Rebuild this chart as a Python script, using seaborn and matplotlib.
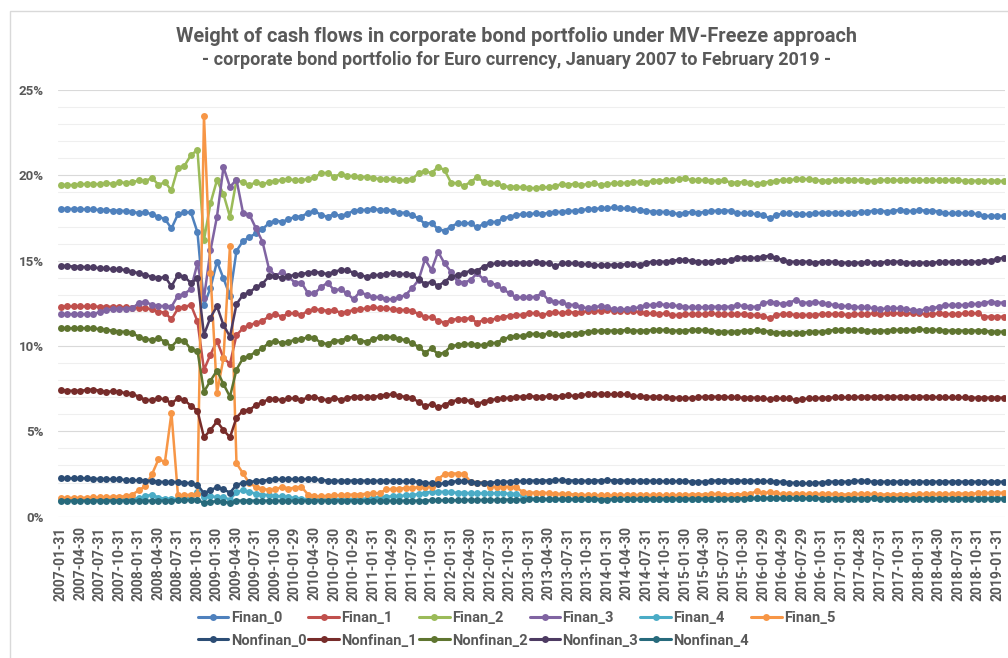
import numpy as np
import pandas as pd
import seaborn as sns
from matplotlib import pyplot as plt
from matplotlib.lines import Line2D
from matplotlib.patches import Rectangle

# quarterly tick labels (every 3rd month, 146 monthly observations)
tick_labels = ["2007-01-31", "2007-04-30", "2007-07-31", "2007-10-31", "2008-01-31", "2008-04-30",
               "2008-07-31", "2008-10-31", "2009-01-30", "2009-04-30", "2009-07-31", "2009-10-30",
               "2010-01-29", "2010-04-30", "2010-07-30", "2010-10-29", "2011-01-31", "2011-04-29",
               "2011-07-29", "2011-10-31", "2012-01-31", "2012-04-30", "2012-07-31", "2012-10-31",
               "2013-01-31", "2013-04-30", "2013-07-31", "2013-10-31", "2014-01-31", "2014-04-30",
               "2014-07-31", "2014-10-31", "2015-01-30", "2015-04-30", "2015-07-31", "2015-10-30",
               "2016-01-29", "2016-04-29", "2016-07-29", "2016-10-31", "2017-01-31", "2017-04-28",
               "2017-07-31", "2017-10-31", "2018-01-31", "2018-04-30", "2018-07-31", "2018-10-31",
               "2019-01-31"]

# weights in %
finan_0 = [18.03, 18.03, 18.03, 18.03, 18.00, 18.00, 17.97, 17.97, 17.93, 17.93,
           17.90, 17.85, 17.80, 17.83, 17.72, 17.58, 17.44, 16.89, 17.72, 17.83,
           17.83, 16.66, 12.40, 13.40, 14.95, 13.96, 12.95, 15.57, 16.15, 16.38,
           16.60, 16.85, 17.20, 17.35, 17.28, 17.42, 17.58, 17.58, 17.81, 17.93,
           17.67, 17.58, 17.73, 17.62, 17.73, 17.93, 17.97, 17.97, 18.04, 17.97,
           17.97, 17.93, 17.81, 17.81, 17.67, 17.48, 17.15, 17.22, 16.84, 16.76,
           16.99, 17.19, 17.19, 17.19, 16.95, 17.15, 17.28, 17.26, 17.48, 17.58,
           17.66, 17.73, 17.73, 17.77, 17.73, 17.81, 17.87, 17.85, 17.89, 17.93,
           17.97, 18.01, 18.04, 18.06, 18.08, 18.12, 18.06, 18.06, 18.01, 17.97,
           17.93, 17.87, 17.87, 17.85, 17.81, 17.73, 17.81, 17.85, 17.81, 17.85,
           17.89, 17.93, 17.93, 17.93, 17.81, 17.77, 17.77, 17.73, 17.67, 17.48,
           17.67, 17.77, 17.77, 17.73, 17.73, 17.73, 17.77, 17.81, 17.81, 17.81,
           17.77, 17.77, 17.81, 17.85, 17.85, 17.93, 17.93, 17.87, 17.93, 17.97,
           17.93, 17.89, 17.97, 17.93, 17.93, 17.87, 17.77, 17.77, 17.81, 17.77,
           17.77, 17.73, 17.62, 17.62, 17.62, 17.62]
finan_1 = [12.30, 12.32, 12.32, 12.32, 12.32, 12.32, 12.30, 12.30, 12.30, 12.28,
           12.28, 12.25, 12.25, 12.22, 12.15, 12.01, 11.96, 11.56, 12.20, 12.30,
           12.40, 11.45, 8.60, 9.50, 10.30, 9.30, 8.95, 10.64, 11.04, 11.23,
           11.35, 11.48, 11.73, 11.86, 11.72, 11.91, 11.91, 11.82, 12.07, 12.15,
           12.11, 12.07, 12.11, 11.95, 12.01, 12.11, 12.15, 12.21, 12.27, 12.21,
           12.21, 12.15, 12.11, 12.11, 12.07, 11.87, 11.72, 11.68, 11.48, 11.37,
           11.52, 11.60, 11.60, 11.62, 11.37, 11.52, 11.52, 11.62, 11.72, 11.76,
           11.82, 11.82, 11.95, 11.91, 11.82, 11.91, 11.99, 11.91, 12.01, 11.95,
           11.99, 12.03, 12.07, 12.07, 12.11, 12.07, 12.07, 12.03, 12.03, 11.99,
           11.91, 11.91, 11.87, 11.91, 11.82, 11.82, 11.87, 11.87, 11.87, 11.87,
           11.91, 11.87, 11.87, 11.87, 11.87, 11.87, 11.82, 11.82, 11.76, 11.62,
           11.82, 11.87, 11.87, 11.82, 11.82, 11.82, 11.82, 11.87, 11.87, 11.87,
           11.87, 11.82, 11.87, 11.87, 11.87, 11.91, 11.87, 11.91, 11.91, 11.91,
           11.91, 11.91, 11.91, 11.87, 11.87, 11.91, 11.87, 11.87, 11.87, 11.91,
           11.91, 11.91, 11.72, 11.72, 11.72, 11.72]
finan_2 = [19.43, 19.43, 19.43, 19.47, 19.50, 19.50, 19.47, 19.55, 19.50, 19.60,
           19.55, 19.60, 19.70, 19.67, 19.85, 19.45, 19.59, 19.12, 20.45, 20.56,
           21.19, 21.48, 16.21, 18.36, 19.72, 18.89, 17.58, 19.72, 19.59, 19.43,
           19.59, 19.50, 19.59, 19.67, 19.72, 19.76, 19.72, 19.72, 19.78, 19.88,
           20.12, 20.15, 19.92, 20.07, 19.96, 19.96, 19.88, 19.92, 19.82, 19.80,
           19.76, 19.76, 19.72, 19.72, 19.78, 20.12, 20.27, 20.12, 20.50, 20.31,
           19.57, 19.53, 19.37, 19.62, 19.88, 19.62, 19.57, 19.53, 19.37, 19.33,
           19.33, 19.30, 19.27, 19.24, 19.30, 19.30, 19.37, 19.49, 19.45, 19.50,
           19.43, 19.49, 19.53, 19.43, 19.49, 19.53, 19.53, 19.57, 19.62, 19.62,
           19.57, 19.68, 19.68, 19.72, 19.72, 19.76, 19.82, 19.72, 19.72, 19.72,
           19.68, 19.68, 19.72, 19.57, 19.57, 19.62, 19.53, 19.49, 19.57, 19.62,
           19.68, 19.72, 19.72, 19.76, 19.80, 19.76, 19.72, 19.68, 19.68, 19.72,
           19.72, 19.72, 19.72, 19.72, 19.68, 19.68, 19.72, 19.72, 19.70, 19.72,
           19.72, 19.72, 19.70, 19.72, 19.72, 19.70, 19.72, 19.72, 19.70, 19.68,
           19.68, 19.68, 19.66, 19.68, 19.68, 19.66]
finan_3 = [11.86, 11.86, 11.86, 11.86, 11.86, 11.86, 12.01, 12.10, 12.15, 12.18,
           12.18, 12.20, 12.54, 12.60, 12.40, 12.34, 12.34, 12.30, 12.95, 13.05,
           13.35, 14.86, 12.80, 15.60, 17.58, 20.48, 19.32, 19.75, 17.82, 17.69,
           16.89, 16.11, 14.52, 14.11, 14.35, 14.06, 13.71, 13.71, 13.09, 13.09,
           13.44, 13.71, 13.28, 13.32, 13.09, 12.74, 13.18, 12.99, 12.89, 12.85,
           12.74, 12.74, 12.85, 12.99, 13.38, 13.87, 15.08, 14.45, 15.52, 14.84,
           14.35, 13.77, 13.71, 13.87, 14.26, 13.91, 13.71, 13.57, 13.32, 13.09,
           12.85, 12.85, 12.85, 12.89, 13.09, 12.69, 12.60, 12.55, 12.43, 12.40,
           12.28, 12.21, 12.27, 12.34, 12.27, 12.15, 12.15, 12.15, 12.21, 12.27,
           12.40, 12.40, 12.46, 12.40, 12.40, 12.34, 12.30, 12.27, 12.27, 12.27,
           12.30, 12.30, 12.30, 12.30, 12.40, 12.34, 12.30, 12.30, 12.50, 12.60,
           12.54, 12.46, 12.54, 12.69, 12.54, 12.54, 12.60, 12.50, 12.46, 12.40,
           12.34, 12.34, 12.30, 12.27, 12.27, 12.21, 12.15, 12.21, 12.21, 12.21,
           12.15, 12.11, 12.07, 12.15, 12.21, 12.30, 12.40, 12.40, 12.40, 12.40,
           12.46, 12.46, 12.54, 12.60, 12.54, 12.54]
finan_4 = [1.00, 1.00, 1.00, 1.00, 1.00, 1.00, 1.00, 1.02, 1.02, 1.02,
           1.05, 1.05, 1.08, 1.20, 1.30, 1.12, 1.05, 1.05, 1.05, 1.08,
           1.10, 1.45, 1.15, 1.20, 1.15, 1.15, 1.00, 1.45, 1.55, 1.45,
           1.35, 1.30, 1.25, 1.20, 1.20, 1.15, 1.10, 1.05, 1.02, 1.02,
           1.02, 1.02, 1.02, 1.02, 1.02, 1.02, 1.05, 1.05, 1.10, 1.15,
           1.17, 1.20, 1.21, 1.25, 1.27, 1.33, 1.40, 1.46, 1.46, 1.46,
           1.43, 1.41, 1.40, 1.37, 1.37, 1.37, 1.37, 1.37, 1.37, 1.35,
           1.33, 1.20, 1.08, 1.05, 1.05, 1.05, 1.05, 1.05, 1.05, 1.05,
           1.05, 1.05, 1.06, 1.06, 1.06, 1.05, 1.05, 1.05, 1.06, 1.06,
           1.06, 1.06, 1.06, 1.05, 1.05, 1.06, 1.06, 1.06, 1.06, 1.06,
           1.06, 1.08, 1.08, 1.08, 1.08, 1.08, 1.10, 1.12, 1.10, 1.12,
           1.10, 1.08, 1.08, 1.08, 1.08, 1.08, 1.08, 1.08, 1.08, 1.08,
           1.08, 1.08, 1.08, 1.08, 1.08, 1.08, 1.08, 1.08, 1.08, 1.08,
           1.08, 1.08, 1.08, 1.08, 1.08, 1.08, 1.08, 1.08, 1.08, 1.08,
           1.08, 1.08, 1.08, 1.08, 1.08, 1.08]
finan_5 = [1.10, 1.10, 1.10, 1.10, 1.12, 1.13, 1.13, 1.15, 1.17, 1.18,
           1.20, 1.30, 1.55, 1.80, 2.48, 3.36, 3.22, 6.07, 1.25, 1.25,
           1.30, 1.35, 23.49, 14.26, 7.25, 9.28, 15.87, 3.13, 2.54, 1.95,
           1.75, 1.65, 1.56, 1.60, 1.75, 1.65, 1.70, 1.75, 1.30, 1.20,
           1.20, 1.22, 1.25, 1.25, 1.28, 1.30, 1.30, 1.35, 1.37, 1.37,
           1.60, 1.62, 1.65, 1.68, 1.70, 1.72, 1.74, 1.76, 2.20, 2.50,
           2.53, 2.53, 2.50, 2.05, 2.00, 2.00, 1.76, 1.76, 1.76, 1.76,
           1.72, 1.46, 1.41, 1.41, 1.41, 1.38, 1.35, 1.33, 1.33, 1.30,
           1.27, 1.27, 1.25, 1.25, 1.25, 1.25, 1.27, 1.27, 1.27, 1.27,
           1.27, 1.27, 1.27, 1.25, 1.25, 1.27, 1.27, 1.30, 1.30, 1.30,
           1.33, 1.33, 1.30, 1.30, 1.30, 1.33, 1.33, 1.50, 1.37, 1.45,
           1.37, 1.33, 1.33, 1.33, 1.33, 1.33, 1.33, 1.33, 1.33, 1.33,
           1.30, 1.30, 1.33, 1.33, 1.33, 1.33, 1.30, 1.30, 1.30, 1.30,
           1.30, 1.30, 1.33, 1.33, 1.33, 1.33, 1.33, 1.33, 1.35, 1.35,
           1.35, 1.37, 1.37, 1.40, 1.40, 1.40]
nonfinan_0 = [2.25, 2.25, 2.25, 2.25, 2.25, 2.23, 2.20, 2.20, 2.20, 2.18,
              2.15, 2.13, 2.13, 2.12, 2.10, 2.05, 2.03, 2.03, 2.03, 2.00,
              1.95, 1.86, 1.37, 1.56, 1.72, 1.60, 1.41, 1.86, 1.99, 2.03,
              2.10, 2.12, 2.15, 2.18, 2.20, 2.20, 2.20, 2.20, 2.20, 2.18,
              2.15, 2.12, 2.10, 2.10, 2.10, 2.12, 2.12, 2.10, 2.10, 2.10,
              2.10, 2.10, 2.08, 2.08, 2.08, 2.05, 2.00, 1.95, 1.93, 1.95,
              2.05, 2.08, 2.08, 2.05, 2.00, 1.98, 2.00, 2.02, 2.05, 2.05,
              2.08, 2.08, 2.10, 2.12, 2.12, 2.12, 2.15, 2.15, 2.12, 2.12,
              2.10, 2.10, 2.12, 2.12, 2.15, 2.12, 2.12, 2.10, 2.10, 2.10,
              2.10, 2.10, 2.08, 2.08, 2.08, 2.08, 2.10, 2.05, 2.05, 2.05,
              2.10, 2.12, 2.12, 2.12, 2.12, 2.10, 2.10, 2.10, 2.08, 2.08,
              2.05, 2.05, 2.00, 1.98, 1.95, 1.95, 1.98, 2.00, 2.05, 2.05,
              2.05, 2.05, 2.10, 2.10, 2.08, 2.05, 2.05, 2.05, 2.05, 2.05,
              2.05, 2.05, 2.05, 2.05, 2.05, 2.05, 2.05, 2.05, 2.05, 2.05,
              2.05, 2.05, 2.05, 2.05, 2.05, 2.05]
nonfinan_1 = [7.42, 7.38, 7.38, 7.38, 7.42, 7.45, 7.38, 7.32, 7.35, 7.32,
              7.23, 7.19, 7.03, 6.84, 6.84, 6.94, 6.88, 6.64, 6.94, 6.84,
              6.49, 6.21, 4.65, 5.08, 5.58, 5.08, 4.65, 5.80, 6.22, 6.25,
              6.55, 6.70, 6.90, 6.88, 6.84, 6.93, 6.93, 6.84, 6.99, 7.03,
              6.88, 6.84, 6.97, 6.84, 6.95, 7.03, 7.03, 6.99, 7.03, 7.07,
              7.13, 7.17, 7.07, 7.03, 6.93, 6.74, 6.48, 6.60, 6.41, 6.54,
              6.74, 6.84, 6.84, 6.78, 6.60, 6.74, 6.84, 6.88, 6.93, 6.97,
              7.03, 7.03, 7.07, 7.03, 7.03, 7.05, 7.03, 7.07, 7.11, 7.07,
              7.13, 7.17, 7.17, 7.21, 7.17, 7.17, 7.17, 7.17, 7.07, 7.07,
              7.03, 7.03, 7.03, 6.99, 6.97, 6.97, 6.93, 6.97, 6.99, 7.03,
              7.03, 7.03, 7.03, 6.99, 6.99, 6.97, 6.97, 6.97, 6.93, 6.88,
              6.93, 6.93, 6.93, 6.84, 6.88, 6.93, 6.93, 6.97, 6.97, 6.99,
              6.99, 6.99, 6.99, 7.03, 7.03, 7.03, 7.03, 7.03, 7.03, 7.03,
              7.03, 7.03, 7.03, 7.03, 7.03, 6.99, 6.99, 6.99, 6.99, 6.99,
              6.97, 6.97, 6.97, 6.97, 6.97, 6.97]
nonfinan_2 = [11.04, 11.04, 11.04, 11.04, 11.04, 11.04, 10.98, 10.94, 10.90, 10.84,
              10.84, 10.74, 10.55, 10.40, 10.36, 10.45, 10.26, 9.96, 10.36, 10.30,
              9.80, 9.72, 7.32, 7.97, 8.56, 7.77, 7.03, 8.62, 9.28, 9.42,
              9.67, 9.86, 10.20, 10.30, 10.16, 10.26, 10.36, 10.40, 10.52, 10.46,
              10.19, 10.12, 10.32, 10.32, 10.46, 10.52, 10.32, 10.26, 10.40, 10.52,
              10.52, 10.52, 10.40, 10.36, 10.16, 9.96, 9.61, 9.86, 9.53, 9.61,
              10.00, 10.06, 10.12, 10.12, 10.06, 10.06, 10.16, 10.19, 10.40, 10.52,
              10.59, 10.59, 10.71, 10.71, 10.65, 10.75, 10.71, 10.65, 10.71, 10.71,
              10.79, 10.82, 10.86, 10.90, 10.90, 10.90, 10.90, 10.94, 10.90, 10.90,
              10.90, 10.94, 10.94, 10.94, 10.90, 10.90, 10.90, 10.94, 10.94, 10.94,
              10.90, 10.84, 10.84, 10.84, 10.84, 10.90, 10.90, 10.94, 10.90, 10.84,
              10.79, 10.79, 10.79, 10.75, 10.79, 10.82, 10.84, 10.84, 10.90, 10.94,
              10.94, 10.94, 10.94, 10.94, 10.90, 10.90, 10.90, 10.90, 10.94, 10.94,
              10.94, 10.94, 10.98, 10.94, 10.94, 10.94, 10.90, 10.90, 10.90, 10.90,
              10.90, 10.90, 10.90, 10.84, 10.84, 10.84]
nonfinan_3 = [14.69, 14.69, 14.65, 14.65, 14.61, 14.61, 14.55, 14.55, 14.49, 14.49,
              14.45, 14.36, 14.26, 14.16, 14.06, 13.96, 14.06, 13.50, 14.16, 14.06,
              13.69, 13.96, 10.66, 11.67, 12.33, 11.23, 10.55, 12.45, 13.00, 13.15,
              13.44, 13.65, 14.08, 14.12, 13.96, 14.10, 14.16, 14.22, 14.29, 14.35,
              14.29, 14.22, 14.35, 14.45, 14.45, 14.29, 14.16, 14.06, 14.16, 14.16,
              14.22, 14.26, 14.22, 14.22, 14.16, 13.91, 13.64, 13.77, 13.52, 13.77,
              14.06, 14.16, 14.29, 14.41, 14.41, 14.65, 14.80, 14.84, 14.88, 14.88,
              14.88, 14.88, 14.88, 14.94, 14.88, 14.84, 14.68, 14.84, 14.84, 14.84,
              14.80, 14.80, 14.76, 14.72, 14.76, 14.76, 14.76, 14.80, 14.80, 14.76,
              14.88, 14.94, 14.94, 14.94, 15.00, 15.04, 15.04, 15.00, 14.94, 14.94,
              14.94, 15.00, 15.00, 15.04, 15.18, 15.18, 15.16, 15.16, 15.24, 15.28,
              15.16, 15.04, 14.94, 14.94, 14.94, 14.94, 14.88, 14.94, 14.94, 14.94,
              14.88, 14.88, 14.88, 14.88, 14.92, 14.88, 14.88, 14.94, 14.94, 14.94,
              14.88, 14.88, 14.88, 14.88, 14.88, 14.92, 14.92, 14.94, 14.94, 14.94,
              14.94, 14.94, 15.00, 15.00, 15.10, 15.17]
nonfinan_4 = [0.94, 0.94, 0.94, 0.94, 0.94, 0.94, 0.94, 0.94, 0.94, 0.94,
              0.94, 0.94, 0.94, 0.94, 0.94, 0.94, 0.94, 0.94, 0.96, 0.96,
              0.98, 0.98, 0.80, 0.88, 0.90, 0.88, 0.80, 0.94, 0.94, 0.94,
              0.94, 0.94, 0.94, 0.94, 0.94, 0.94, 0.94, 0.94, 0.94, 0.94,
              0.94, 0.94, 0.94, 0.94, 0.94, 0.94, 0.94, 0.94, 0.94, 0.94,
              0.94, 0.94, 0.94, 0.94, 0.94, 0.94, 0.94, 0.96, 0.96, 0.96,
              0.96, 0.96, 0.98, 0.98, 0.98, 0.98, 0.98, 0.98, 1.00, 1.00,
              1.00, 1.00, 1.02, 1.02, 1.02, 1.02, 1.02, 1.02, 1.02, 1.02,
              1.02, 1.02, 1.02, 1.00, 1.00, 1.02, 1.02, 1.02, 1.02, 1.02,
              1.02, 1.02, 1.04, 1.04, 1.04, 1.04, 1.04, 1.04, 1.04, 1.05,
              1.05, 1.04, 1.02, 1.04, 1.05, 1.05, 1.07, 1.07, 1.08, 1.08,
              1.07, 1.07, 1.07, 1.07, 1.07, 1.07, 1.07, 1.05, 1.05, 1.05,
              1.05, 1.05, 1.05, 1.05, 1.05, 1.07, 1.05, 1.05, 1.05, 1.05,
              1.05, 1.05, 1.05, 1.05, 1.05, 1.05, 1.05, 1.05, 1.05, 1.05,
              1.05, 1.05, 1.05, 1.05, 1.05, 1.05]

series_names = ["Finan_0", "Finan_1", "Finan_2", "Finan_3", "Finan_4", "Finan_5",
                "Nonfinan_0", "Nonfinan_1", "Nonfinan_2", "Nonfinan_3", "Nonfinan_4"]
series_values = [finan_0, finan_1, finan_2, finan_3, finan_4, finan_5,
                 nonfinan_0, nonfinan_1, nonfinan_2, nonfinan_3, nonfinan_4]
colors = ["#4F81BD", "#C0504D", "#9BBB59", "#8064A2", "#4BACC6", "#F79646",
          "#2C4D75", "#772C2A", "#5F7530", "#4D3B62", "#276A7C"]

frames = []
for name, vals in zip(series_names, series_values):
    frames.append(pd.DataFrame({"month": np.arange(len(vals)), "weight": vals, "series": name}))
df = pd.concat(frames, ignore_index=True)

sns.set_style("white")
plt.rcParams['font.family'] = ['Roboto', 'DejaVu Sans']
plt.rcParams['font.weight'] = 'bold'
grey = "#595959"

fig = plt.figure(figsize=(10.08, 6.58), dpi=100)
ax = fig.add_axes([58 / 1008, 141.3 / 658, 947 / 1008, 426.7 / 658])

# light chart border like the excel chart area
fig.patches.append(Rectangle((10 / 1008, -0.05), 1.0, 1 - 11 / 658 + 0.05, transform=fig.transFigure,
                             fill=False, edgecolor="#D9D9D9", linewidth=1.0, zorder=0))

sns.lineplot(data=df, x="month", y="weight", hue="series", hue_order=series_names,
             palette=colors, marker="o", markersize=5, markeredgewidth=0,
             linewidth=1.8, legend=False, ax=ax, zorder=3)

ax.set_xlim(-0.45, 145.2)
ax.set_ylim(0, 25)
ax.set_yticks(range(0, 26, 5))
ax.set_yticks(range(0, 26), minor=True)
ax.set_yticklabels([f"{v}%" for v in range(0, 26, 5)], fontweight="bold")
ax.grid(False)
ax.grid(axis="y", which="minor", color="#EFEFEF", linewidth=0.8, zorder=0)
ax.grid(axis="y", which="major", color="#D9D9D9", linewidth=0.8, zorder=0)
ax.set_axisbelow(True)
ax.set_xticks(range(0, 146, 3))
ax.set_xticklabels(tick_labels, rotation=90, fontweight="bold")
ax.tick_params(axis="x", length=0, pad=7, labelsize=10, labelcolor=grey)
ax.tick_params(axis="y", which="both", length=0, pad=10, labelsize=9.5, labelcolor=grey)
ax.set_xlabel("")
ax.set_ylabel("")
for s in ax.spines.values():
    s.set_visible(False)

fig.text(0.512, 1 - 36 / 658, "Weight of cash flows in corporate bond portfolio under MV-Freeze approach",
         ha="center", va="center", fontsize=14.3, fontweight="bold", color=grey)
fig.text(0.512, 1 - 60 / 658, "- corporate bond portfolio for Euro currency, January 2007 to February 2019 -",
         ha="center", va="center", fontsize=13, fontweight="bold", color=grey)

# legend: row 1 Finan, row 2 Nonfinan (column-major fill)
handles = {n: Line2D([], [], color=c, linewidth=2.2, marker="o", markersize=5, markeredgewidth=0)
           for n, c in zip(series_names, colors)}
order = ["Finan_0", "Nonfinan_0", "Finan_1", "Nonfinan_1", "Finan_2", "Nonfinan_2",
         "Finan_3", "Nonfinan_3", "Finan_4", "Nonfinan_4", "Finan_5"]
leg = fig.legend([handles[n] for n in order], order, loc="upper left",
                 bbox_to_anchor=(192 / 1008, 1 - 605 / 658), borderaxespad=0,
                 ncol=6, frameon=False, prop={"weight": "bold", "size": 10.5},
                 handlelength=2.1, handletextpad=0.15, columnspacing=0.15, labelspacing=0.6)
for t in leg.get_texts():
    t.set_color(grey)

fig.savefig("out.png", dpi=100)
